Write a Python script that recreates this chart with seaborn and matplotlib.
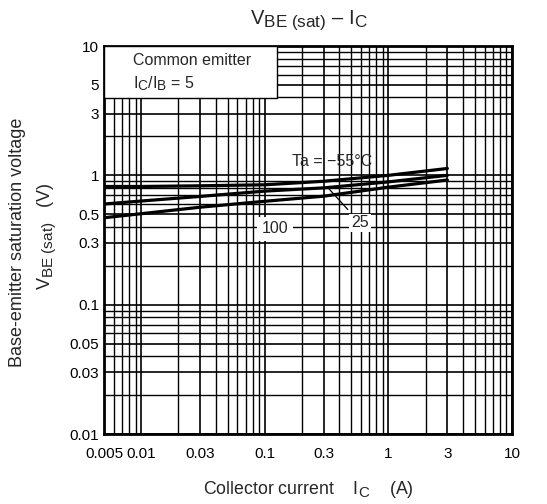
import numpy as np
import pandas as pd
import matplotlib
matplotlib.use("Agg")
import matplotlib.pyplot as plt
import matplotlib._mathtext as _mt
import seaborn as sns
from matplotlib.patches import Rectangle

_mt.SHRINK_FACTOR = 0.85  # larger subscripts, like the datasheet typography

# ---- data ----
ic = [0.005, 0.01, 0.03, 0.1, 0.3, 1, 3]
v_m55 = [0.82, 0.82, 0.83, 0.845, 0.90, 1.00, 1.13]
v_25 = [0.60, 0.633, 0.687, 0.755, 0.80, 0.89, 1.00]
v_100 = [0.47, 0.505, 0.567, 0.63, 0.69, 0.81, 0.92]
series_names = ["-55", "25", "100"]

x_ticks = [0.005, 0.01, 0.03, 0.1, 0.3, 1, 3, 10]
x_tick_labels = ["0.005", "0.01", "0.03", "0.1", "0.3", "1", "3", "10"]
y_ticks = [0.01, 0.03, 0.05, 0.1, 0.3, 0.5, 1, 3, 5, 10]
y_tick_labels = ["0.01", "0.03", "0.05", "0.1", "0.3", "0.5", "1", "3", "5", "10"]

df = pd.DataFrame({
    "Ic": ic * 3,
    "V": v_m55 + v_25 + v_100,
    "Ta": [series_names[0]] * len(ic) + [series_names[1]] * len(ic) + [series_names[2]] * len(ic),
})

sns.set_theme(style="white")
plt.rcParams["font.family"] = ["Liberation Sans", "DejaVu Sans"]
plt.rcParams["mathtext.fontset"] = "custom"
plt.rcParams["mathtext.rm"] = "Liberation Sans"
plt.rcParams["mathtext.it"] = "Liberation Sans"

fig = plt.figure(figsize=(5.47, 5.04), dpi=100)
ax = fig.add_axes([104 / 547, 1 - 434 / 504, 408 / 547, 388 / 504])

sns.lineplot(data=df, x="Ic", y="V", hue="Ta", palette=["black"] * 3,
             linewidth=2.3, legend=False, ax=ax, zorder=5)

ax.set_xscale("log")
ax.set_yscale("log")
ax.set_xlim(0.005, 10)
ax.set_ylim(0.01, 10)
ax.set_xticks(x_ticks)
ax.set_xticklabels(x_tick_labels)
ax.set_yticks(y_ticks)
ax.set_yticklabels(y_tick_labels)
ax.xaxis.set_minor_locator(matplotlib.ticker.LogLocator(base=10, subs=np.arange(2, 10)))
ax.yaxis.set_minor_locator(matplotlib.ticker.LogLocator(base=10, subs=np.arange(2, 10)))
ax.xaxis.set_minor_formatter(matplotlib.ticker.NullFormatter())
ax.yaxis.set_minor_formatter(matplotlib.ticker.NullFormatter())
ax.tick_params(which="both", length=0, labelsize=11, colors="black")
ax.tick_params(axis="x", pad=9)
ax.tick_params(axis="y", pad=3.5)
ax.grid(which="major", color="black", linewidth=1.2)
ax.grid(which="minor", color="black", linewidth=1.0)
ax.set_axisbelow(True)
for s in ax.spines.values():
    s.set_color("black")
    s.set_linewidth(2)

ax.set_xlabel("")
ax.set_ylabel("")

# condition box
ax.add_patch(Rectangle((0, 1 - 52 / 388), 173 / 408, 52 / 388, transform=ax.transAxes,
                       facecolor="white", edgecolor="black", linewidth=1, zorder=3))
ax.text(0.071, 0.962, "Common emitter", transform=ax.transAxes, fontsize=11.5,
        va="center", ha="left", zorder=6)
ax.text(0.071, 0.902, r"I$_\mathrm{C}$/I$_\mathrm{B}$ = 5", transform=ax.transAxes,
        fontsize=11.5, va="center", ha="left", zorder=6)

# curve labels
ax.text(0.35, 1.27, "Ta = \u221255\u00b0C", fontsize=11.5, ha="center", va="center", zorder=6)
ax.annotate("25", xy=(0.325, 0.80), xytext=(0.59, 0.428), fontsize=11.5,
            ha="center", va="center", zorder=6,
            bbox=dict(boxstyle="square,pad=0.12", fc="white", ec="none"),
            arrowprops=dict(arrowstyle="-", color="black", lw=0.9, shrinkA=4, shrinkB=0))
ax.text(0.121, 0.385, "100", fontsize=11.5, ha="center", va="center", zorder=6,
        bbox=dict(boxstyle="square,pad=0.3", fc="white", ec="none"))

# title and axis labels
fig.text(309 / 547, 1 - 20 / 504, "V$_{\\mathrm{BE\\ (sat)}}$ \u2013 I$_{\\mathrm{C}}$",
         fontsize=14.5, ha="center", va="center")
fig.text(308 / 547, 1 - 489 / 504, r"Collector current    I$_{\mathrm{C}}$    (A)",
         fontsize=12.8, ha="center", va="center")
fig.text(18 / 547, 1 - 242 / 504, "Base-emitter saturation voltage", fontsize=13,
         rotation=90, ha="center", va="center")
fig.text(47 / 547, 1 - 236 / 504, r"V$_{\mathrm{BE\ (sat)}}$   (V)", fontsize=13,
         rotation=90, ha="center", va="center")

fig.savefig("out.png", dpi=100, facecolor="white")
